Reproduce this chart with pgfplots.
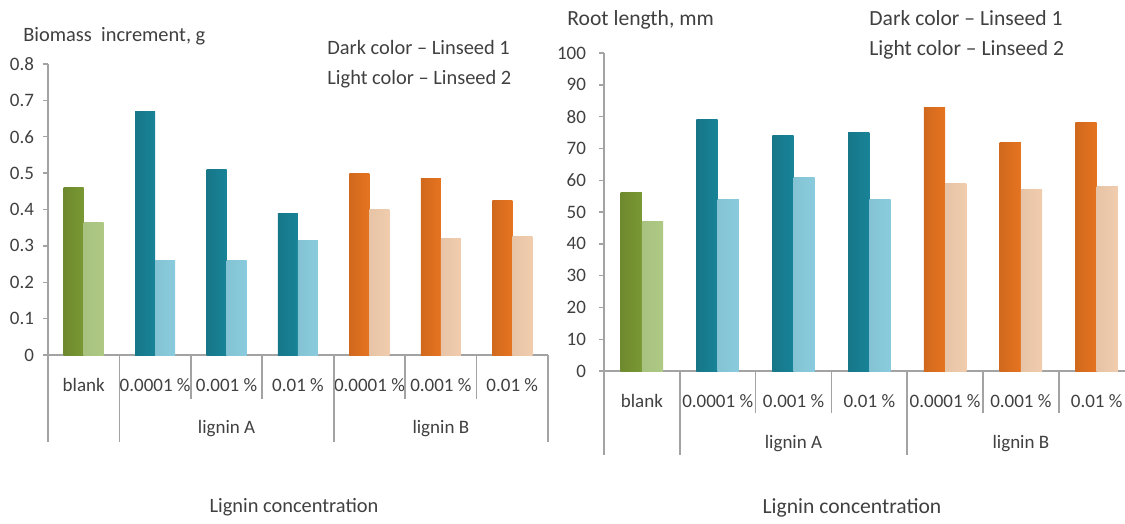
\documentclass[border=0pt]{standalone}
\usepackage{pgfplots}
\pgfplotsset{compat=1.18}
\usepackage{fontspec}
\setmainfont{Carlito}

\definecolor{txt}{HTML}{404040}
\definecolor{axisgray}{HTML}{A3A3A3}
\definecolor{grnD}{HTML}{80A036}
\definecolor{grnL}{HTML}{B6D28A}
\definecolor{tealD}{HTML}{1A8A9F}
\definecolor{tealL}{HTML}{8FD4E6}
\definecolor{orgD}{HTML}{F27A22}
\definecolor{orgL}{HTML}{FBD5B5}

\tikzset{sep/.style={axisgray, line width=0.8pt}}

% each bar is its own plot so that its shading spans only that bar;
% dark bars sit left of the category centre, light bars right of it
\pgfplotsset{
  darkbar/.style={ybar, bar width=0.28, bar shift=-0.14, draw=none,
    left color=#1!86!black, middle color=#1, right color=#1!95!black},
  lightbar/.style={ybar, bar width=0.28, bar shift=0.14, draw=none,
    left color=#1!92!black, middle color=#1, right color=#1!96!black},
  panel/.style={
    scale only axis, clip=false,
    xmin=-0.5, xmax=6.5, ymin=0,
    axis x line*=bottom, axis y line*=left,
    axis line style={axisgray, line width=0.8pt},
    xtick={0,...,6},
    xticklabels={blank,0.0001 \%,0.001 \%,0.01 \%,0.0001 \%,0.001 \%,0.01 \%},
    major x tick style={draw=none},
    major y tick style={axisgray, line width=0.7pt},
    tick align=outside, major tick length=2.5pt,
    ticklabel style={font=\fontsize{9.5}{11}\selectfont, text=txt},
    xticklabel style={anchor=base},
  },
}

\begin{document}
\begin{tikzpicture}
\useasboundingbox (0,0) rectangle (562.5pt,-262pt);
\clip (0,0) rectangle (562.5pt,-262pt);

% ---------------- biomass increment ----------------
\begin{axis}[panel,
  at={(24pt,-177.5pt)}, anchor=south west,
  width=250pt, height=145.5pt,
  ymax=0.8,
  ytick={0,0.1,...,0.8},
  yticklabels={0,0.1,0.2,0.3,0.4,0.5,0.6,0.7,0.8},
  yticklabel style={xshift=-1pt},
  xticklabel style={yshift=-15.5pt},
]
% Linseed 1
\addplot[darkbar=grnD]  coordinates {(0,0.46)};
\addplot[darkbar=tealD] coordinates {(1,0.67)};
\addplot[darkbar=tealD] coordinates {(2,0.51)};
\addplot[darkbar=tealD] coordinates {(3,0.39)};
\addplot[darkbar=orgD]  coordinates {(4,0.50)};
\addplot[darkbar=orgD]  coordinates {(5,0.485)};
\addplot[darkbar=orgD]  coordinates {(6,0.425)};
% Linseed 2
\addplot[lightbar=grnL]  coordinates {(0,0.365)};
\addplot[lightbar=tealL] coordinates {(1,0.26)};
\addplot[lightbar=tealL] coordinates {(2,0.26)};
\addplot[lightbar=tealL] coordinates {(3,0.316)};
\addplot[lightbar=orgL]  coordinates {(4,0.40)};
\addplot[lightbar=orgL]  coordinates {(5,0.32)};
\addplot[lightbar=orgL]  coordinates {(6,0.325)};
% category table below the axis
\draw[sep] (axis cs:-0.5,0) -- ++(0pt,-43.5pt);
\draw[sep] (axis cs:0.5,0) -- ++(0pt,-43.5pt);
\draw[sep] (axis cs:3.5,0) -- ++(0pt,-43.5pt);
\draw[sep] (axis cs:6.5,0) -- ++(0pt,-43.5pt);
\draw[sep] (axis cs:1.5,0) -- ++(0pt,-22pt);
\draw[sep] (axis cs:2.5,0) -- ++(0pt,-22pt);
\draw[sep] (axis cs:4.5,0) -- ++(0pt,-22pt);
\draw[sep] (axis cs:5.5,0) -- ++(0pt,-22pt);
\node[anchor=base, text=txt, font=\fontsize{9.5}{11}\selectfont]
  at ([yshift=-39pt]axis cs:2,0) {lignin A};
\node[anchor=base, text=txt, font=\fontsize{9.5}{11}\selectfont]
  at ([yshift=-39pt]axis cs:5,0) {lignin B};
\end{axis}

% ---------------- root length ----------------
\begin{axis}[panel,
  at={(302pt,-185.5pt)}, anchor=south west,
  width=265.3pt, height=159pt,
  ymax=100,
  ytick={0,10,...,100},
  yticklabels={0,10,20,30,40,50,60,70,80,90,100},
  yticklabel style={xshift=-3pt},
  xticklabel style={yshift=-15.5pt},
]
% Linseed 1
\addplot[darkbar=grnD]  coordinates {(0,56)};
\addplot[darkbar=tealD] coordinates {(1,79)};
\addplot[darkbar=tealD] coordinates {(2,74)};
\addplot[darkbar=tealD] coordinates {(3,75)};
\addplot[darkbar=orgD]  coordinates {(4,83)};
\addplot[darkbar=orgD]  coordinates {(5,72)};
\addplot[darkbar=orgD]  coordinates {(6,78)};
% Linseed 2
\addplot[lightbar=grnL]  coordinates {(0,47)};
\addplot[lightbar=tealL] coordinates {(1,54)};
\addplot[lightbar=tealL] coordinates {(2,61)};
\addplot[lightbar=tealL] coordinates {(3,54)};
\addplot[lightbar=orgL]  coordinates {(4,59)};
\addplot[lightbar=orgL]  coordinates {(5,57)};
\addplot[lightbar=orgL]  coordinates {(6,58)};
\draw[sep] (axis cs:-0.5,0) -- ++(0pt,-42pt);
\draw[sep] (axis cs:0.5,0) -- ++(0pt,-42pt);
\draw[sep] (axis cs:3.5,0) -- ++(0pt,-42pt);
\draw[sep] (axis cs:6.5,0) -- ++(0pt,-42pt);
\draw[sep] (axis cs:1.5,0) -- ++(0pt,-21pt);
\draw[sep] (axis cs:2.5,0) -- ++(0pt,-21pt);
\draw[sep] (axis cs:4.5,0) -- ++(0pt,-21pt);
\draw[sep] (axis cs:5.5,0) -- ++(0pt,-21pt);
\node[anchor=base, text=txt, font=\fontsize{9.5}{11}\selectfont]
  at ([yshift=-38.5pt]axis cs:2,0) {lignin A};
\node[anchor=base, text=txt, font=\fontsize{9.5}{11}\selectfont]
  at ([yshift=-38.5pt]axis cs:5,0) {lignin B};
\end{axis}

% titles, colour key and axis captions
\begin{scope}[every node/.style={inner sep=0pt, text=txt}]
\node[anchor=base west, font=\fontsize{10.2}{12}\selectfont] at (11.5pt,-20.75pt) {Biomass\ \ increment, g};
\node[anchor=base west, font=\fontsize{10.2}{12}\selectfont] at (163.5pt,-27.5pt) {Dark color -- Linseed 1};
\node[anchor=base west, font=\fontsize{10.2}{12}\selectfont] at (163.5pt,-42.5pt) {Light color -- Linseed 2};
\node[font=\fontsize{10.2}{12}\selectfont] at (147pt,-253.5pt) {Lignin concentration};

\node[anchor=base west, font=\fontsize{10.8}{13}\selectfont] at (283.5pt,-13pt) {Root length, mm};
\node[anchor=base west, font=\fontsize{10.8}{13}\selectfont] at (434.5pt,-13pt) {Dark color -- Linseed 1};
\node[anchor=base west, font=\fontsize{10.8}{13}\selectfont] at (434.5pt,-28pt) {Light color -- Linseed 2};
\node[font=\fontsize{10.8}{13}\selectfont] at (426pt,-254pt) {Lignin concentration};
\end{scope}
\end{tikzpicture}
\end{document}
